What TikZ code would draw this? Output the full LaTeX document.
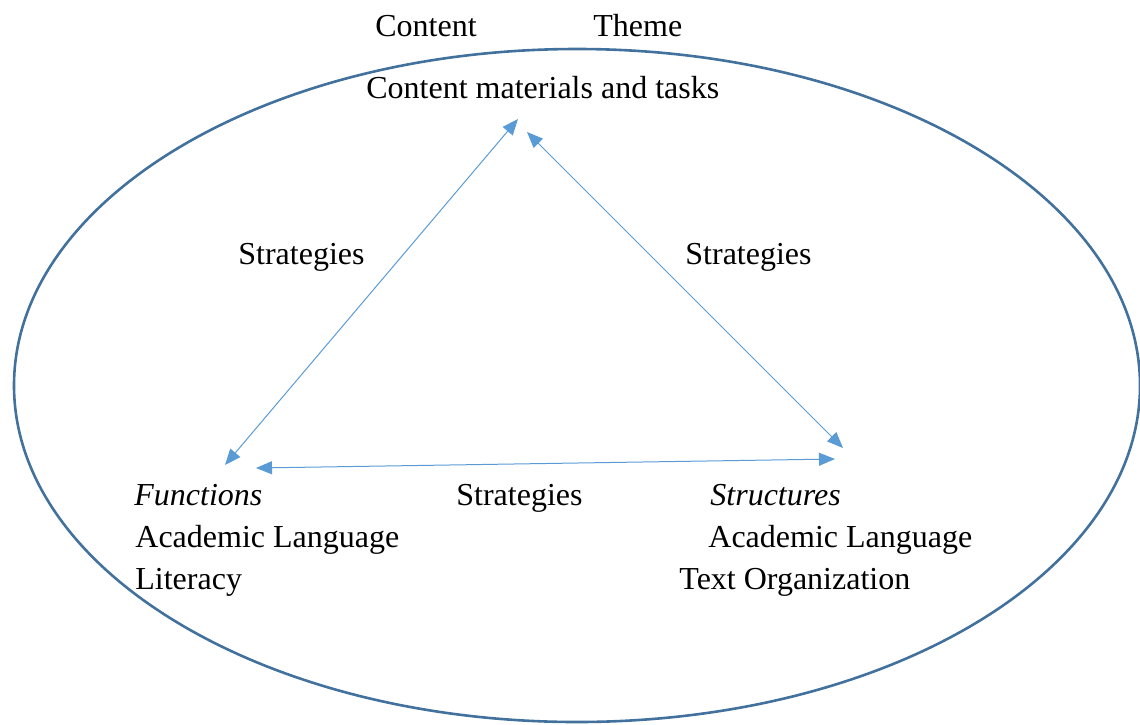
\documentclass[tikz,border=0pt]{standalone}
\usepackage{fontspec}
\setmainfont{Liberation Serif}
\usetikzlibrary{arrows.meta, positioning}

\definecolor{ringblue}{HTML}{41719C}
\definecolor{arrowblue}{HTML}{5B9BD5}

\begin{document}
\begin{tikzpicture}[x=0.5pt, y=-0.5pt, every node/.style={inner sep=0pt, anchor=base west, font=\fontsize{16}{19}\selectfont}, strat/.style={<->, >={Triangle[length=8pt, width=6.5pt]}, draw=arrowblue, line width=0.5pt}]

    \useasboundingbox (0,0) rectangle (1140,724);

    % Outer ring (context)
    \draw[ringblue, line width=1.3pt] (577,385.5) ellipse [x radius=281.5pt, y radius=168.25pt];

    % Top labels
    \node (content) at (375,36) {Content};
    \node (theme) at (593,36) {Theme};
    \node (tasks) at (366,98) {Content materials and tasks};

    % Left corner
    \node (func) at (134,505) {\itshape Functions};
    \node (funcal) at (135,547) {Academic Language};
    \node (lit) at (135,589) {Literacy};

    % Right corner
    \node (struc) at (710,505) {\itshape Structures};
    \node (strucal) at (708,547) {Academic Language};
    \node (textorg) at (679,589) {Text Organization};

    % Strategies labels
    \node (stratl) at (238,264) {Strategies};
    \node (stratr) at (685,264) {Strategies};
    \node (stratb) at (456,505) {Strategies};

    % Corner points of the triangle
    \coordinate (topl) at (518,119);
    \coordinate (topr) at (527,132);
    \coordinate (botl) at (225,465);
    \coordinate (botll) at (256,468);
    \coordinate (botr) at (843,448);
    \coordinate (botrr) at (835,459);

    % Arrows
    \draw[strat] (topl) -- (botl);
    \draw[strat] (topr) -- (botr);
    \draw[strat] (botll) -- (botrr);

\end{tikzpicture}
\end{document}
